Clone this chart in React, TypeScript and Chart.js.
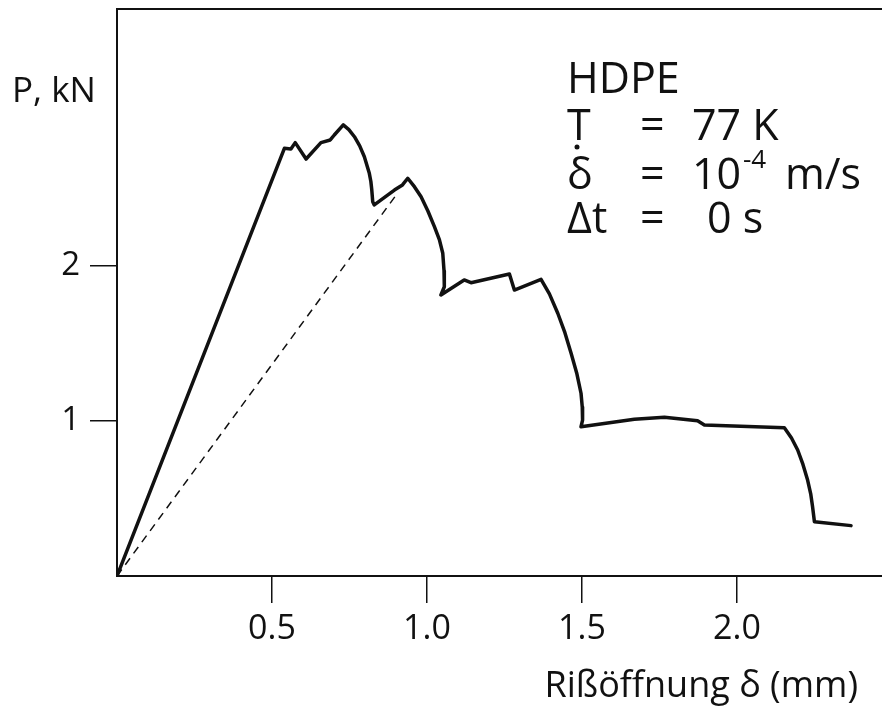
import React, { useEffect, useRef } from "react";
import { Chart, registerables } from "chart.js";

Chart.register(...registerables);

// Rißöffnung δ (mm) / P (kN)
const curveX = [0, 0.540, 0.561, 0.575, 0.610, 0.658, 0.688, 0.701, 0.730, 0.748, 0.766, 0.783, 0.798, 0.814, 0.819, 0.822, 0.825, 0.830, 0.895, 0.921, 0.938, 0.960, 0.981, 1.003, 1.024, 1.040, 1.051, 1.055, 1.056, 1.045, 1.120, 1.142, 1.266, 1.282, 1.368, 1.395, 1.422, 1.445, 1.465, 1.483, 1.497, 1.501, 1.502, 1.497, 1.669, 1.766, 1.873, 1.895, 2.153, 2.176, 2.196, 2.213, 2.228, 2.238, 2.244, 2.250, 2.368];
const curveP = [0, 2.759, 2.755, 2.796, 2.690, 2.796, 2.813, 2.845, 2.910, 2.880, 2.834, 2.775, 2.705, 2.598, 2.545, 2.490, 2.415, 2.394, 2.490, 2.523, 2.566, 2.510, 2.447, 2.355, 2.254, 2.170, 2.082, 1.970, 1.866, 1.813, 1.910, 1.892, 1.948, 1.845, 1.914, 1.820, 1.695, 1.570, 1.437, 1.310, 1.179, 1.090, 1.006, 0.963, 1.011, 1.024, 1.002, 0.974, 0.957, 0.890, 0.813, 0.720, 0.619, 0.530, 0.447, 0.350, 0.325];
const dashX = [0, 0.905];
const dashP = [0, 2.47];
const xTicks = [0.5, 1.0, 1.5, 2.0];
const yTicks = [1, 2];
const xMax = 2.468;
const yMax = 3.658;

const FONT = '"Open Sans", "Noto Sans", sans-serif';
const INK = "#111";

const textPlugin = {
  id: "texts",
  afterDraw(chart: any) {
    const ctx = chart.ctx as CanvasRenderingContext2D;
    ctx.save();
    ctx.fillStyle = INK;
    ctx.textBaseline = "alphabetic";
    ctx.textAlign = "left";
    ctx.font = `35px ${FONT}`;
    ctx.fillText("P, kN", 12, 102);

    ctx.font = `43px ${FONT}`;
    ctx.fillText("HDPE", 567, 93);
    ctx.fillText("T", 567, 140);
    ctx.fillText("=", 640, 140);
    ctx.fillText("77 K", 692, 140);
    ctx.fillText("δ", 567, 189);
    ctx.fillText("=", 640, 189);
    ctx.fillText("10", 692, 189);
    ctx.fillText("m/s", 785, 189);
    ctx.fillText("Δt", 567, 233);
    ctx.fillText("=", 640, 233);
    ctx.fillText("0 s", 707, 233);
    ctx.font = `26px ${FONT}`;
    ctx.fillText("-4", 743, 168);
    ctx.beginPath();
    ctx.arc(577, 147, 2.5, 0, Math.PI * 2);
    ctx.fill();

    ctx.font = `36px ${FONT}`;
    ctx.textAlign = "right";
    ctx.fillText("Rißöffnung δ (mm)", 858, 697);
    ctx.restore();
  },
};

export default function App() {
  const ref = useRef<HTMLCanvasElement | null>(null);

  useEffect(() => {
    if (!ref.current) return;
    const chart = new Chart(ref.current, {
      type: "line",
      data: {
        datasets: [
          {
            data: curveX.map((x, i) => ({ x, y: curveP[i] })),
            borderColor: INK,
            borderWidth: 3.5,
            pointRadius: 0,
            tension: 0,
            borderJoinStyle: "round",
            borderCapStyle: "round",
            fill: false,
          },
          {
            data: dashX.map((x, i) => ({ x, y: dashP[i] })),
            borderColor: INK,
            borderWidth: 1.5,
            borderDash: [8, 6],
            pointRadius: 0,
            fill: false,
          },
        ],
      },
      options: {
        animation: false,
        responsive: false,
        events: [],
        layout: { padding: 0 },
        plugins: { legend: { display: false }, tooltip: { enabled: false } },
        scales: {
          x: {
            type: "linear",
            position: "bottom",
            min: 0,
            max: xMax,
            afterBuildTicks: (s: any) => {
              s.ticks = xTicks.map((v) => ({ value: v }));
            },
            afterFit: (s: any) => {
              s.height = 135;
              s.paddingLeft = 0;
              s.paddingRight = 0;
            },
            grid: {
              display: true,
              drawOnChartArea: false,
              drawTicks: true,
              tickLength: 27,
              color: INK,
              lineWidth: 1.5,
            },
            border: { display: true, color: INK, width: 2 },
            ticks: {
              color: INK,
              font: { family: FONT, size: 34 },
              padding: 6,
              maxRotation: 0,
              autoSkip: false,
              callback: (v: any) => Number(v).toFixed(1),
            },
          },
          xTop: {
            type: "linear",
            position: "top",
            min: 0,
            max: xMax,
            ticks: { display: false },
            grid: { display: false },
            border: { display: true, color: INK, width: 2 },
            afterFit: (s: any) => {
              s.height = 9;
              s.paddingLeft = 0;
              s.paddingRight = 0;
            },
          },
          y: {
            type: "linear",
            position: "left",
            min: 0,
            max: yMax,
            afterBuildTicks: (s: any) => {
              s.ticks = yTicks.map((v) => ({ value: v }));
            },
            afterFit: (s: any) => {
              s.width = 117;
              s.paddingTop = 0;
              s.paddingBottom = 0;
            },
            grid: {
              display: true,
              drawOnChartArea: false,
              drawTicks: true,
              tickLength: 27,
              color: INK,
              lineWidth: 1.5,
            },
            border: { display: true, color: INK, width: 2 },
            ticks: {
              color: INK,
              font: { family: FONT, size: 33 },
              padding: 10,
              callback: (v: any) => String(v),
            },
          },
        },
      },
      plugins: [textPlugin],
    } as any);
    return () => chart.destroy();
  }, []);

  return (
    <div style={{ position: "absolute", left: 0, top: 0, width: 882, height: 711, background: "#fff" }}>
      <canvas ref={ref} width={882} height={711} style={{ display: "block" }} />
    </div>
  );
}
